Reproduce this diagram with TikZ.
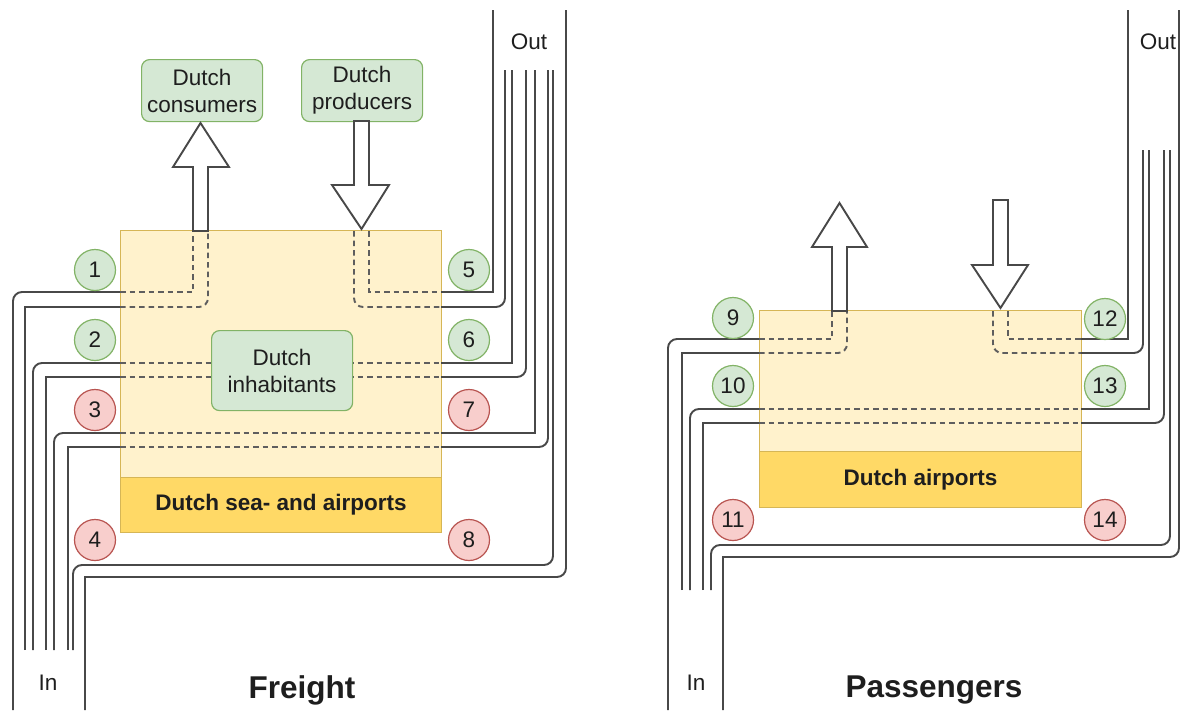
\documentclass[tikz,border=0pt]{standalone}
\usepackage{fontspec}
\setmainfont{Liberation Sans}
\definecolor{zonefill}{HTML}{FFF2CC}
\definecolor{zoneline}{HTML}{D6B656}
\definecolor{portfill}{HTML}{FFD966}
\definecolor{gfill}{HTML}{D5E8D4}
\definecolor{gline}{HTML}{82B366}
\definecolor{rfill}{HTML}{F8CECC}
\definecolor{rline}{HTML}{B85450}
\definecolor{wire}{HTML}{484848}
\definecolor{dashc}{HTML}{5E5E5E}
\definecolor{ink}{HTML}{1E1E1E}
\newcommand{\lbl}{\fontsize{22.5}{27}\selectfont}
\newcommand{\ttlf}{\fontsize{31.5}{36}\selectfont\bfseries}

\begin{document}
\begin{tikzpicture}[
  x=1pt, y=-1pt,
  text=ink, font=\lbl,
  ln/.style={line width=1.9pt, draw=wire},
  dl/.style={line width=1.9pt, draw=dashc, dash pattern=on 5.5pt off 4pt},
  rc/.style={rounded corners=9pt},
  zone/.style={draw=zoneline, fill=zonefill, line width=1.2pt, inner sep=0pt, anchor=north west},
  port/.style={zone, fill=portfill, font=\lbl\bfseries},
  grp/.style={rounded corners=8pt, draw=gline, fill=gfill, line width=1.2pt, align=center,
              inner sep=0pt, anchor=north west},
  nr/.style={circle, minimum size=41pt, inner sep=0pt, line width=1.2pt},
  gn/.style={nr, draw=gline, fill=gfill},
  rd/.style={nr, draw=rline, fill=rfill},
  fa/.style={line width=1.9pt, draw=wire, fill=white, line join=miter},
]
\useasboundingbox (0,0) rectangle (1181,710);

% ---------------- freight ----------------
\node[zone, minimum width=321pt, minimum height=247pt] (fzone) at (120,230) {};
\node[port, minimum width=321pt, minimum height=55pt] (fport) at (120,477) {Dutch sea- and airports};
% flows 1 and 5: in to consumers, producers to out
\draw[ln] (13,710) [rc] |- (120,292);
\draw[ln] (25,650) |- (120,307);
\draw[dl] (120,292) -| (193,231);
\draw[dl] (120,307) [rc] -| (208,231);
\draw[dl] (354,231) [rc] |- (441,307);
\draw[dl] (369,231) |- (441,292);
\draw[ln] (441,292) -| (493,10);
\draw[ln] (441,307) [rc] -| (505,70);
% flows 2 and 6: through the inhabitants
\draw[ln] (33,650) [rc] |- (120,363);
\draw[ln] (46,650) |- (120,377);
\draw[dl] (120,363) -- (441,363);
\draw[dl] (120,377) -- (441,377);
\draw[ln] (441,363) -| (512,70);
\draw[ln] (441,377) [rc] -| (526,70);
% flows 3 and 7: transit over the ports
\draw[ln] (54,650) [rc] |- (120,433);
\draw[ln] (68,650) |- (120,447);
\draw[dl] (120,433) -- (441,433);
\draw[dl] (120,447) -- (441,447);
\draw[ln] (441,433) -| (535,70);
\draw[ln] (441,447) [rc] -| (548,70);
% flows 4 and 8: past the country
\draw[ln] (73,650) [rc] |- (553,565) [sharp corners] -- (553,70);
\draw[ln] (85,710) -- (85,577) [rc] -- (566,577) -- (566,10);
% consumers and producers
\node[grp, minimum width=121pt, minimum height=62pt] (fcons) at (141,59) {Dutch\\consumers};
\node[grp, minimum width=121pt, minimum height=62pt] (fprod) at (301,59) {Dutch\\producers};
\draw[fa] (193,231) -- (193,167) -- (173,167) -- (200.5,123) -- (229,167) -- (208,167) -- (208,231) -- cycle;
\draw[fa] (354,121) -- (354,185) -- (332,185) -- (361.5,229) -- (389,185) -- (369,185) -- (369,121) -- cycle;
\node[grp, minimum width=141pt, minimum height=80pt] (finh) at (211,330) {Dutch\\inhabitants};
% numbered flows
\node[gn] (n1) at (95,270) {1};
\node[gn] (n2) at (95,340) {2};
\node[rd] (n3) at (95,410) {3};
\node[rd] (n4) at (95,540) {4};
\node[gn] (n5) at (469,270) {5};
\node[gn] (n6) at (469,340) {6};
\node[rd] (n7) at (469,410) {7};
\node[rd] (n8) at (469,540) {8};
\node (fin) at (48,683) {In};
\node (fout) at (529,42) {Out};
\node[font=\ttlf] (ftitle) at (302,690) {Freight};

% ---------------- passengers ----------------
\node[zone, minimum width=322pt, minimum height=141pt] (pzone) at (759,310) {};
\node[port, minimum width=322pt, minimum height=56pt] (pport) at (759,451) {Dutch airports};
% flows 9 and 12
\draw[ln] (668,710) [rc] |- (759,339);
\draw[ln] (682,590) |- (759,353);
\draw[dl] (759,339) -| (832,311);
\draw[dl] (759,353) [rc] -| (847,311);
\draw[dl] (993,311) [rc] |- (1081,353);
\draw[dl] (1008,311) |- (1081,339);
\draw[ln] (1081,339) -| (1128,10);
\draw[ln] (1081,353) [rc] -| (1143,150);
% flows 10 and 13
\draw[ln] (690,590) [rc] |- (759,409);
\draw[ln] (703,590) |- (759,423);
\draw[dl] (759,409) -- (1081,409);
\draw[dl] (759,423) -- (1081,423);
\draw[ln] (1081,409) -| (1149,150);
\draw[ln] (1081,423) [rc] -| (1164,150);
% flows 11 and 14
\draw[ln] (711,590) [rc] |- (1170,545) [sharp corners] -- (1170,150);
\draw[ln] (723,710) -- (723,557) [rc] -- (1179,557) -- (1179,10);
\draw[fa] (832,311) -- (832,247) -- (812,247) -- (839.5,203) -- (867,247) -- (847,247) -- (847,311) -- cycle;
\draw[fa] (993,200) -- (993,265) -- (972,265) -- (1000.5,308) -- (1028,265) -- (1008,265) -- (1008,200) -- cycle;
\node[gn] (n9) at (733,318) {9};
\node[gn] (n10) at (733,386) {10};
\node[rd] (n11) at (733,520) {11};
\node[gn] (n12) at (1105,319) {12};
\node[gn] (n13) at (1105,386) {13};
\node[rd] (n14) at (1105,520) {14};
\node (pin) at (696,683) {In};
\node (pout) at (1158,42) {Out};
\node[font=\ttlf] (ptitle) at (934,690) {Passengers};
\end{tikzpicture}
\end{document}
